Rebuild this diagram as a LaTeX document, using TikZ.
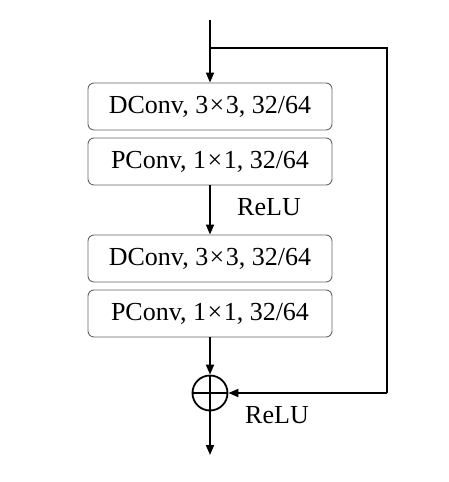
\documentclass[tikz,border=0pt]{standalone}
\usepackage{fontspec}
\setmainfont{Liberation Serif}
\usetikzlibrary{arrows.meta}
\newcommand{\tx}{\kern1.5pt\texttimes\kern1.5pt}
\begin{document}
\begin{tikzpicture}[x=1pt,y=-1pt,
  convbox/.style={draw=black!60,line width=0.9pt,rounded corners=6pt,minimum width=244pt,minimum height=47pt,inner sep=0pt,font=\fontsize{26}{28}\selectfont},
  lbl/.style={font=\fontsize{26}{28}\selectfont,inner sep=0pt},
  conn/.style={line width=1.8pt,-{Triangle[length=10pt,width=8pt]}},
  plain/.style={line width=1.8pt}]
\useasboundingbox (0,0) rectangle (448,482);
\coordinate (in) at (210,20);
\coordinate (br) at (210,48);
\coordinate (rt) at (387,48);
\coordinate (rb) at (387,393);
\coordinate (out) at (210,455);
\node[convbox] (b1) at (210,106.5) {DConv, 3\tx3, 32/64};
\node[convbox] (b2) at (210,161.5) {PConv, 1\tx1, 32/64};
\node[convbox] (b3) at (210,258.5) {DConv, 3\tx3, 32/64};
\node[convbox] (b4) at (210,313.5) {PConv, 1\tx1, 32/64};
\node[circle,draw,line width=1.8pt,minimum size=35pt,inner sep=0pt] (sum) at (210,393) {};
\draw[line width=1.8pt] (sum.north) -- (sum.south) (sum.west) -- (sum.east);
\node[lbl] (r1) at (269,207) {ReLU};
\node[lbl] (r2) at (277,415) {ReLU};
\draw[conn] (in) -- (b1.north);
\draw[plain] (br) -- (rt) -- (rb);
\draw[conn] (rb) -- (sum.east);
\draw[conn] (b2.south) -- (b3.north);
\draw[conn] (b4.south) -- (sum.north);
\draw[conn] (sum.south) -- (out);
\end{tikzpicture}
\end{document}
